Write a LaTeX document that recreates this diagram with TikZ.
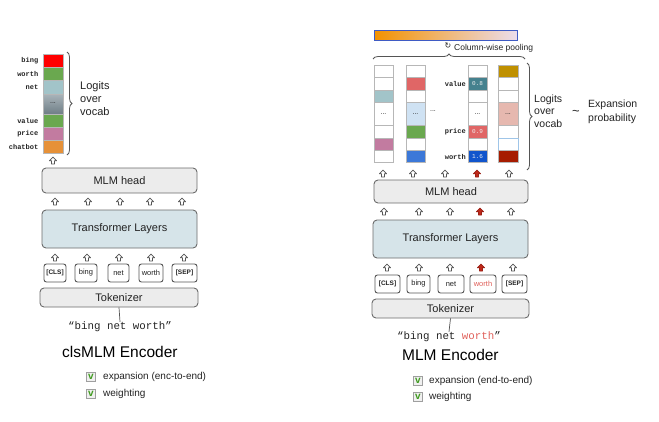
\documentclass[tikz,border=0pt]{standalone}
\usepackage{fontspec}
\setmainfont{Liberation Sans}
\setmonofont{Liberation Mono}
\newfontfamily\symbolfont{DejaVu Sans}
\usetikzlibrary{decorations.pathreplacing}

\definecolor{textdark}{HTML}{222222}
\definecolor{boxline}{HTML}{6B6B6B}
\definecolor{boxgray}{HTML}{ECECEC}
\definecolor{tfblue}{HTML}{D6E4E9}
\definecolor{tokline}{HTML}{555555}
\definecolor{cellline}{HTML}{B7B7B7}
\definecolor{braceline}{HTML}{555555}
\definecolor{arrowline}{HTML}{555555}
\definecolor{hotred}{HTML}{C0281A}
\definecolor{chkgreen}{HTML}{3E9A1E}
\definecolor{wordred}{HTML}{E0605A}
\definecolor{cRed}{HTML}{FF0000}
\definecolor{cGreen}{HTML}{6AA84F}
\definecolor{cTeal}{HTML}{A2C4C9}
\definecolor{cPink}{HTML}{C27BA0}
\definecolor{cOrange}{HTML}{E69138}
\definecolor{cSalmon}{HTML}{E06666}
\definecolor{cLightBlue}{HTML}{CFE2F3}
\definecolor{cBlue}{HTML}{3C78D8}
\definecolor{cDarkTeal}{HTML}{45818E}
\definecolor{cRoyal}{HTML}{1155CC}
\definecolor{cGold}{HTML}{BF9000}
\definecolor{cRose}{HTML}{E6B8AF}
\definecolor{cSky}{HTML}{9FC5E8}
\definecolor{cMaroon}{HTML}{A61C00}
\definecolor{gradTop}{HTML}{A9B4BA}
\definecolor{gradBot}{HTML}{6F7E86}
\definecolor{poolA}{HTML}{F39200}
\definecolor{poolB}{HTML}{EBDDEC}
\definecolor{poolEdge}{HTML}{3F5BC4}

% one vocabulary cell: x1, y1, x2, y2, fill
\newcommand\vcell[5]{\filldraw[fill=#5, draw=cellline, line width=1pt] (#1,#2) rectangle (#3,#4);}

\begin{document}
\begin{tikzpicture}[x=1pt, y=-1pt,
  lbl/.style={font=\fontsize{11}{13}\selectfont, text=textdark, align=left, inner sep=0, anchor=west},
  blk/.style={draw=boxline, line width=0.9pt, rounded corners=4pt, fill=boxgray, inner sep=0,
              font=\fontsize{11}{13}\selectfont, text=textdark},
  tfm/.style={blk, fill=tfblue},
  tokbox/.style={draw=tokline, line width=0.9pt, rounded corners=2.5pt, fill=white, inner sep=0,
                 minimum height=18pt, font=\fontsize{7.5}{9}\selectfont, text=textdark},
  tokspecial/.style={tokbox, font=\fontsize{6.5}{8}\selectfont\bfseries},
  vocablbl/.style={font=\fontsize{7}{8}\selectfont\ttfamily\bfseries, text=textdark, anchor=east, inner sep=0},
  score/.style={font=\fontsize{6}{7}\selectfont\ttfamily, text=white!88!gray, inner sep=0},
  dots/.style={font=\fontsize{7}{8}\selectfont, text=textdark, inner sep=0},
  title/.style={font=\fontsize{15.5}{18}\selectfont, text=black, inner sep=0, anchor=west},
  opt/.style={font=\fontsize{10}{12}\selectfont, text=textdark, inner sep=0, anchor=west},
  chk/.style={draw=gray!75, fill=gray!12, minimum size=9pt, inner sep=0,
              font=\fontsize{10}{10}\selectfont\bfseries, text=chkgreen},
  brc/.style={decorate, decoration={brace, amplitude=5pt}, draw=braceline, line width=0.8pt},
  quote/.style={font=\fontsize{10.8}{12}\selectfont\ttfamily, text=textdark, inner sep=0},
  upar/.pic={\filldraw[fill=white, draw=arrowline, line width=0.7pt, line join=round]
     (-1.5,0) -- (-1.5,-3.2) -- (-3.6,-3.2) -- (0,-7) -- (3.6,-3.2) -- (1.5,-3.2) -- (1.5,0) -- cycle;},
  uparhot/.pic={\filldraw[fill=hotred, draw=hotred!80!black, line width=0.7pt, line join=round]
     (-1.5,0) -- (-1.5,-3.2) -- (-3.6,-3.2) -- (0,-7) -- (3.6,-3.2) -- (1.5,-3.2) -- (1.5,0) -- cycle;}
]
\useasboundingbox (0,0) rectangle (659,421);

%================ clsMLM encoder (left) ================
% vocabulary logits column
\vcell{43}{54}{63}{67}{cRed}
\vcell{43}{67}{63}{80}{cGreen}
\vcell{43}{80}{63}{94}{cTeal}
\shade[top color=gradTop, bottom color=gradBot] (43,94) rectangle (63,114);
\draw[cellline, line width=1pt] (43,94) rectangle (63,114);
\node[dots] (ldots) at (53,103.5) {...};
\vcell{43}{114}{63}{127}{cGreen}
\vcell{43}{127}{63}{140}{cPink}
\vcell{43}{140}{63}{153}{cOrange}

\node[vocablbl] (lv1) at (38.5,60.5) {bing};
\node[vocablbl] (lv2) at (38.5,73.5) {worth};
\node[vocablbl] (lv3) at (38.5,87) {net};
\node[vocablbl] (lv4) at (38.5,120.5) {value};
\node[vocablbl] (lv5) at (38.5,133.5) {price};
\node[vocablbl] (lv6) at (38.5,146.5) {chatbot};

\draw[brc] (67,52) -- (67,155);
\node[lbl] (llogits) at (80,99) {Logits\\over\\vocab};

\pic at (53,164) {upar};

\node[blk, minimum width=155pt, minimum height=25pt] (lhead) at (119.5,180.5) {MLM head};
\foreach \xx in {55,88,120,150,182} \pic at (\xx,205) {upar};
\node[tfm, minimum width=155pt, minimum height=38pt] (ltf) at (119.5,229) {Transformer Layers};
\foreach \xx in {55,87,119,151,184} \pic at (\xx,261) {upar};

\node[tokspecial, minimum width=22pt] (lt1) at (55,273) {[CLS]};
\node[tokbox, minimum width=22pt] (lt2) at (86,273) {bing};
\node[tokbox, minimum width=21pt] (lt3) at (118.5,273) {net};
\node[tokbox, minimum width=24pt] (lt4) at (151,273) {worth};
\node[tokspecial, minimum width=25pt] (lt5) at (184.5,273) {[SEP]};

\node[blk, minimum width=158pt, minimum height=19pt] (ltok) at (119,297.5) {Tokenizer};
\node[quote] (lquote) at (120,327) {“bing net worth”};
\draw[arrowline, line width=0.7pt] (ltok.south) -- (lquote.north);

\node[title] (ltitle) at (62,352) {clsMLM Encoder};
\node[chk] (lc1) at (91,377) {v};
\node[opt] (lo1) at (103,377) {expansion (enc-to-end)};
\node[chk] (lc2) at (91,394) {v};
\node[opt] (lo2) at (103,394) {weighting};

%================ MLM encoder (right) ================
% pooled expansion vector
\shade[left color=poolA, right color=poolB] (374,30) rectangle (517,40);
\draw[poolEdge, line width=0.8pt] (374,30) rectangle (517,40);
\node[font=\symbolfont\fontsize{8}{9}\selectfont, text=textdark, inner sep=0] (poolsym) at (448,46) {↻};
\node[font=\fontsize{8.5}{10}\selectfont, text=textdark, inner sep=0, anchor=west] (pooltxt) at (454,48.5) {Column-wise pooling};
\draw[brc] (373,59) -- (525,59);

% column 1
\vcell{374}{65}{393}{77.5}{white}
\vcell{374}{77.5}{393}{90}{white}
\vcell{374}{90}{393}{102.5}{cTeal}
\vcell{374}{102.5}{393}{125.5}{white}
\vcell{374}{125.5}{393}{138}{white}
\vcell{374}{138}{393}{150.5}{cPink}
\vcell{374}{150.5}{393}{162.5}{white}
\node[dots] (d1) at (383.5,114) {...};
% column 2
\vcell{406}{65}{425}{77.5}{white}
\vcell{406}{77.5}{425}{90}{cSalmon}
\vcell{406}{90}{425}{102.5}{white}
\vcell{406}{102.5}{425}{125.5}{cLightBlue}
\vcell{406}{125.5}{425}{138}{cGreen}
\vcell{406}{138}{425}{150.5}{white}
\vcell{406}{150.5}{425}{162.5}{cBlue}
\node[dots] (d2) at (415.5,114) {...};
\node[dots] (dmid) at (433,111) {...};
% column 3
\vcell{468}{65}{487}{77.5}{white}
\vcell{468}{77.5}{487}{90}{cDarkTeal}
\vcell{468}{90}{487}{102.5}{white}
\vcell{468}{102.5}{487}{125.5}{white}
\vcell{468}{125.5}{487}{138}{cSalmon}
\vcell{468}{138}{487}{150.5}{white}
\vcell{468}{150.5}{487}{162.5}{cRoyal}
\node[dots] (d3) at (477.5,114) {...};
\node[score] (s1) at (477.5,83.8) {0.8};
\node[score] (s2) at (477.5,131.8) {0.9};
\node[score] (s3) at (477.5,156.5) {1.6};
\node[vocablbl] (rv1) at (466,83.8) {value};
\node[vocablbl] (rv2) at (466,131.8) {price};
\node[vocablbl] (rv3) at (466,156.5) {worth};
% column 4
\vcell{498}{65}{518}{77.5}{cGold}
\vcell{498}{77.5}{518}{90}{white}
\vcell{498}{90}{518}{102.5}{white}
\vcell{498}{102.5}{518}{125.5}{cRose}
\vcell{498}{125.5}{518}{138}{white}
\filldraw[fill=white, draw=cSky, line width=1pt] (498,138) rectangle (518,150.5);
\vcell{498}{150.5}{518}{162.5}{cMaroon}
\node[dots] (d4) at (508,114) {...};

\draw[brc] (527,63) -- (527,170);
\node[lbl, font=\fontsize{10.5}{12.5}\selectfont] (rlogits) at (534,111) {Logits\\over\\vocab};
\node[font=\fontsize{13}{14}\selectfont, text=textdark, inner sep=0] (tilde) at (576,113) {\char"7E};
\node[lbl, font=\fontsize{10.5}{13.5}\selectfont] (rexp) at (588,112) {Expansion\\probability};

\foreach \xx in {383,413,445,509} \pic at (\xx,177) {upar};
\pic at (477,177) {uparhot};
\node[blk, minimum width=154pt, minimum height=23pt] (rhead) at (451,191.5) {MLM head};
\foreach \xx in {384,419,450,511} \pic at (\xx,215) {upar};
\pic at (480,215) {uparhot};
\node[tfm, minimum width=155pt, minimum height=38pt] (rtf) at (450.5,239) {Transformer Layers};
\foreach \xx in {387,419,450,513} \pic at (\xx,271) {upar};
\pic at (481,271) {uparhot};

\node[tokspecial, minimum width=25pt] (rt1) at (387.5,284) {[CLS]};
\node[tokbox, minimum width=23pt] (rt2) at (418.5,284) {bing};
\node[tokbox, minimum width=26pt] (rt3) at (451,284) {net};
\node[tokbox, minimum width=26pt, text=wordred] (rt4) at (483,284) {worth};
\node[tokspecial, minimum width=25pt] (rt5) at (514.5,284) {[SEP]};

\node[blk, minimum width=157pt, minimum height=19pt] (rtok) at (450.5,308.5) {Tokenizer};
\node[quote] (rquote) at (449,337) {“bing net \textcolor{wordred}{worth}”};
\draw[arrowline, line width=0.7pt] (rtok.south) -- (rquote.north);

\node[title] (rtitle) at (402,355) {MLM Encoder};
\node[chk] (rc1) at (418,381) {v};
\node[opt] (ro1) at (429,381) {expansion (end-to-end)};
\node[chk] (rc2) at (418,397) {v};
\node[opt] (ro2) at (429,397) {weighting};
\end{tikzpicture}
\end{document}
